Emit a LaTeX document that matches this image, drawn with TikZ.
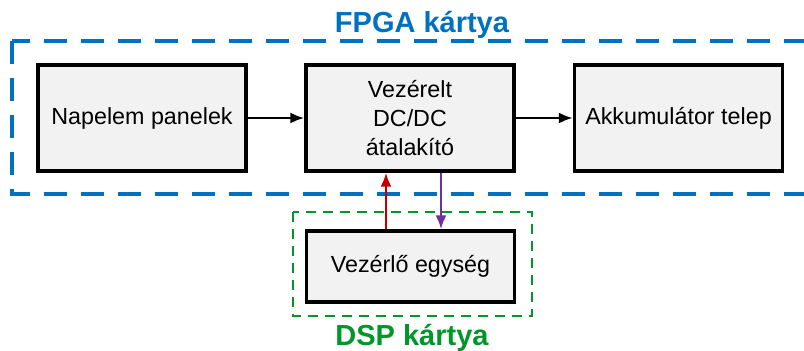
\documentclass[tikz,border=0pt]{standalone}
\usepackage{fontspec}
\setmainfont{Liberation Sans}
\usetikzlibrary{arrows.meta}
\definecolor{fpgablue}{RGB}{0,112,192}
\definecolor{dspgreen}{RGB}{0,150,40}
\definecolor{sigred}{RGB}{192,0,0}
\definecolor{sigpurple}{RGB}{112,48,160}
\definecolor{boxfill}{RGB}{242,242,242}
\tikzset{
  block/.style={draw=black, fill=boxfill, line width=3.2pt, minimum width=208pt,
    minimum height=106pt, align=center, font=\fontsize{23.3}{29}\selectfont, inner sep=0pt},
  flow/.style={line width=2.6pt, -{Latex[length=14pt,width=11pt]}},
  boardlabel/.style={font=\fontsize{29}{32}\selectfont\bfseries, inner sep=0pt}
}
\begin{document}
\begin{tikzpicture}[x=1pt,y=-1pt]
  \useasboundingbox (0,0) rectangle (804,351);
  \begin{scope}
    \clip (0,0) rectangle (804,351);
    % FPGA board outline
    \draw[fpgablue, line width=3.2pt, dash pattern=on 23pt off 14pt] (12,41) rectangle (830,194);
  \end{scope}
  \node[boardlabel, text=fpgablue, anchor=base] (fpga) at (422,32) {FPGA kártya};
  % DSP board outline
  \draw[dspgreen, line width=2.2pt, dash pattern=on 10pt off 7pt] (293,212) rectangle (532,316);
  \node[boardlabel, text=dspgreen, anchor=base] (dsp) at (412,345) {DSP kártya};
  % blocks
  \node[block] (pv) at (142,118) {Napelem panelek};
  \node[block] (conv) at (410,118) {Vezérelt\\DC/DC\\átalakító};
  \node[block] (batt) at (678.5,118) {Akkumulátor telep};
  \node[block, minimum height=71pt] (ctrl) at (410.5,266.5) {Vezérlő egység};
  % power flow
  \draw[flow] (pv.east) -- (conv.west);
  \draw[flow] (conv.east) -- (batt.west);
  % control signals
  \draw[flow, sigred] (ctrl.north -| 386,0) -- (conv.south -| 386,0);
  \draw[flow, sigpurple] (conv.south -| 441,0) -- (ctrl.north -| 441,0);
\end{tikzpicture}
\end{document}
